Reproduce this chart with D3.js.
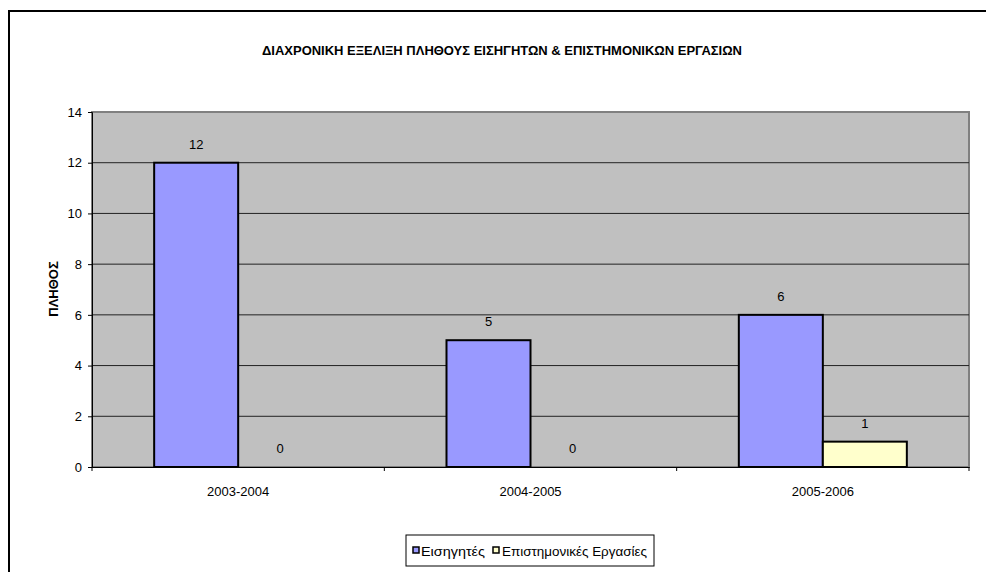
<!DOCTYPE html>
<html><head><meta charset="utf-8">
<script src="https://cdn.jsdelivr.net/npm/d3@7"></script>
<style>body{margin:0;background:#fff}svg{display:block;font-family:"Liberation Sans",Arial,sans-serif}</style>
</head><body><svg id="c" width="986" height="572"></svg>
<script>
const categories = ["2003-2004","2004-2005","2005-2006"];
const seriesNames = ["Εισηγητές","Επιστημονικές Εργασίες"];
const speakers = [12,5,6];
const papers = [0,0,1];
const yTicks = [0,2,4,6,8,10,12,14];
const title = "ΔΙΑΧΡΟΝΙΚΗ ΕΞΕΛΙΞΗ ΠΛΗΘΟΥΣ ΕΙΣΗΓΗΤΩΝ & ΕΠΙΣΤΗΜΟΝΙΚΩΝ ΕΡΓΑΣΙΩΝ";
const yTitle = "ΠΛΗΘΟΣ";
const colors = ["#9999FF","#FFFFCC"];

const svg = d3.select("#c");
const m = {l:92, t:112, r:969, b:467};
const FS = 13;
// outer chart border (extends beyond window right and bottom)
svg.append("rect").attr("x",9).attr("y",11).attr("width",1000).attr("height",600)
  .attr("fill","#fff").attr("stroke","#000").attr("stroke-width",2);

svg.append("text").attr("x",502).attr("y",55).attr("text-anchor","middle")
  .attr("font-size",FS).attr("font-weight","bold")
  .attr("textLength",480).attr("lengthAdjust","spacingAndGlyphs").text(title);

const x0 = d3.scaleBand().domain(categories).range([m.l,m.r]).paddingInner(0).paddingOuter(0);
const x1 = d3.scaleBand().domain(seriesNames).range([0,x0.bandwidth()]).paddingInner(0).paddingOuter(0.74);
const y = d3.scaleLinear().domain([0,14]).range([m.b,m.t]);

// plot area
svg.append("rect").attr("x",m.l).attr("y",m.t).attr("width",m.r-m.l).attr("height",m.b-m.t)
  .attr("fill","#C0C0C0").attr("stroke","#808080").attr("stroke-width",2);
// gridlines
svg.append("g").selectAll("line").data(yTicks.filter(d=>d>0 && d<14)).join("line")
  .attr("x1",m.l).attr("x2",m.r).attr("y1",d=>y(d)).attr("y2",d=>y(d))
  .attr("stroke","#222").attr("stroke-width",1);

// y axis
const ya = svg.append("g").attr("transform",`translate(${m.l},0)`)
  .call(d3.axisLeft(y).tickValues(yTicks).tickSize(4).tickPadding(6));
ya.select(".domain").attr("stroke","#000");
ya.selectAll("text").attr("font-size",FS).attr("font-family","Liberation Sans, Arial").attr("fill","#000");

// x axis with ticks at category boundaries
const xa = svg.append("g").attr("transform",`translate(0,${m.b})`)
  .call(d3.axisBottom(x0).tickSize(0).tickPadding(20));
xa.select(".domain").attr("stroke","#000");
xa.selectAll("text").attr("font-size",FS).attr("font-family","Liberation Sans, Arial").attr("fill","#000");
svg.append("g").selectAll("line").data(categories.map(c=>x0(c)).concat([m.r])).join("line")
  .attr("x1",d=>d).attr("x2",d=>d).attr("y1",m.b).attr("y2",m.b+4).attr("stroke","#000");

// bars
const data = [speakers,papers];
data.forEach((vals,si)=>{
  const g = svg.append("g");
  g.selectAll("rect").data(vals.map((v,i)=>({v,c:categories[i]}))).join("rect")
    .filter(d=>d.v>0)
    .attr("x",d=>x0(d.c)+x1(seriesNames[si]))
    .attr("y",d=>y(d.v))
    .attr("width",x1.bandwidth())
    .attr("height",d=>y(0)-y(d.v))
    .attr("fill",colors[si]).attr("stroke","#000").attr("stroke-width",2);
  g.selectAll("text").data(vals.map((v,i)=>({v,c:categories[i]}))).join("text")
    .attr("x",d=>x0(d.c)+x1(seriesNames[si])+x1.bandwidth()/2)
    .attr("y",d=>y(d.v)-14)
    .attr("text-anchor","middle").attr("font-size",FS).text(d=>d.v);
});

// y title
svg.append("text").attr("transform","translate(58,289) rotate(-90)")
  .attr("text-anchor","middle").attr("font-size",FS).attr("font-weight","bold").text(yTitle);

// legend
const lg = svg.append("g");
lg.append("rect").attr("x",406).attr("y",535).attr("width",248).attr("height",31)
  .attr("fill","#fff").attr("stroke","#000").attr("stroke-width",1);
const items = [{x:413,tx:421,w:64},{x:493,tx:502,w:145}];
seriesNames.forEach((n,i)=>{
  lg.append("rect").attr("x",items[i].x).attr("y",547).attr("width",6).attr("height",6)
    .attr("fill",colors[i]).attr("stroke","#000").attr("stroke-width",1.5);
  lg.append("text").attr("x",items[i].tx).attr("y",555.5).attr("font-size",FS)
    .attr("textLength",items[i].w).attr("lengthAdjust","spacingAndGlyphs").text(n);
});
</script></body></html>
